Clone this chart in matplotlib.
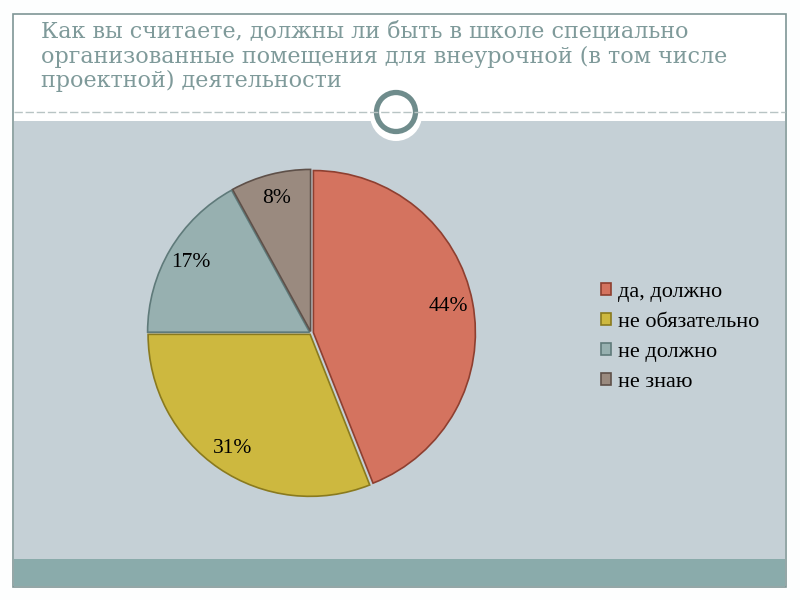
import matplotlib
matplotlib.use("Agg")
import matplotlib.pyplot as plt
from matplotlib.patches import Rectangle, Circle

# ── данные ──
labels = ["да, должно", "не обязательно", "не должно", "не знаю"]
values = [44, 31, 17, 8]
colors = ["#D4735F", "#CDB83F", "#97B0B0", "#9A8A7F"]
edges = ["#8E3F30", "#8A7A1E", "#5F7A7A", "#5E5049"]
title = ("Как вы считаете, должны ли быть в школе специально\n"
         "организованные помещения для внеурочной (в том числе\n"
         "проектной) деятельности")

plt.rcParams["font.family"] = ["Liberation Serif", "DejaVu Serif"]

fig = plt.figure(figsize=(8, 6), dpi=100)
fig.patch.set_facecolor("#FDFEFE")

# ── фон слайда (пиксельные координаты) ──
bg = fig.add_axes([0, 0, 1, 1])
bg.set_xlim(0, 800)
bg.set_ylim(600, 0)
bg.axis("off")
bg.add_patch(Rectangle((13, 14), 773, 573, facecolor="white", edgecolor="#7F9696", lw=1.2))
bg.add_patch(Rectangle((14, 121), 771, 438, facecolor="#C5D0D6", edgecolor="none"))
bg.add_patch(Rectangle((14, 559), 771, 27, facecolor="#8AABAB", edgecolor="none"))
bg.plot([14, 785], [112, 112], color="#B8C4C4", lw=1, ls=(0, (6, 2)))
bg.add_patch(Circle((396, 115), 26, facecolor="white", edgecolor="none"))
bg.add_patch(Circle((396, 112), 19.5, facecolor="white", edgecolor="#6F8C8C", lw=3.8))
bg.text(41, 21, title, color="#7F9A9A", fontsize=16, va="top", ha="left",
        linespacing=1.15, family="DejaVu Serif")

# ── круговая диаграмма ──
R = 162
half = 175
ax = fig.add_axes([(311 - half) / 800, 1 - (333 + half) / 600,
                   2 * half / 800, 2 * half / 600])
wedges, texts, autotexts = ax.pie(
    values, colors=colors, startangle=90, counterclock=False,
    explode=[0.015, 0.01, 0.01, 0.01], autopct="%d%%", pctdistance=0.85,
    wedgeprops=dict(linewidth=1.2), textprops=dict(fontsize=15.5, color="black"))
for w, ec in zip(wedges, edges):
    w.set_edgecolor(ec)
ax.set_xlim(-half / R, half / R)
ax.set_ylim(-half / R, half / R)
ax.set_aspect("equal")
ax.axis("off")

# ── легенда ──
leg = fig.legend(wedges, labels, loc="upper left", bbox_to_anchor=(581 / 800, 1 - 263 / 600),
                 frameon=False, fontsize=16, handlelength=0.45, handleheight=0.45,
                 labelspacing=0.5, handletextpad=0.3)

fig.savefig("out.png", dpi=100)
